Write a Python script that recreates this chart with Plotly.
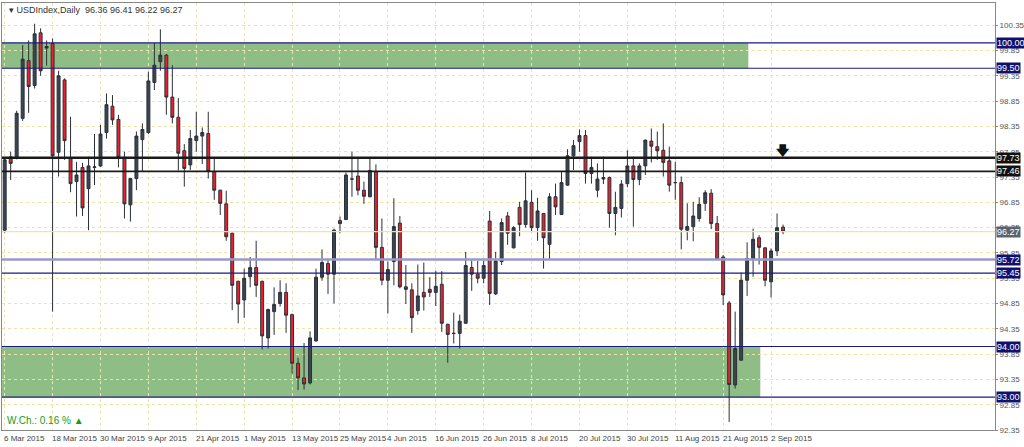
import plotly.graph_objects as go

opens = [96.30,97.75,97.75,98.51,99.65,99.16,100.20,99.90,99.99,97.84,99.27,97.73,97.26,97.54,97.12,97.54,97.57,98.23,98.75,98.49,
97.74,96.80,97.32,98.09,98.23,99.22,99.63,99.76,98.93,98.53,97.87,97.59,98.07,98.16,98.21,97.46,97.09,96.82,96.24,95.29,
94.92,95.38,95.56,95.29,94.17,94.69,94.85,95.07,94.63,93.67,93.38,93.28,94.11,95.37,95.64,95.43,96.49,96.51,97.31,97.37,
97.09,96.96,97.46,95.96,95.31,95.68,96.44,95.18,95.12,94.71,95.07,95.13,95.07,95.23,94.44,94.26,94.26,94.46,95.56,95.43,
95.35,96.48,95.04,95.68,96.58,95.95,96.75,96.41,96.85,96.35,96.63,96.02,96.96,96.61,97.19,97.77,98.05,98.17,97.42,97.09,
97.31,97.34,96.63,96.73,97.22,97.57,97.30,97.57,98.06,97.95,97.88,97.67,97.24,97.24,96.30,96.37,96.53,96.83,97.03,96.43,
95.77,94.86,93.24,93.73,95.31,95.74,96.15,95.95,95.28,95.89,96.36]
highs = [97.72,97.85,98.66,99.96,100.05,100.38,100.29,100.05,100.09,99.45,99.30,98.54,97.65,97.63,97.75,98.20,98.38,99.00,98.97,98.58,
97.85,97.32,98.25,98.41,99.43,100.00,100.27,99.78,99.56,98.91,98.00,98.28,98.64,98.33,98.64,97.72,97.10,97.08,96.25,95.30,
95.54,95.77,96.09,95.30,94.75,95.17,95.31,95.25,94.65,93.78,94.07,94.30,95.54,95.92,95.74,96.33,96.57,97.44,97.85,97.72,
97.26,97.72,97.60,96.53,95.68,96.93,96.58,95.61,95.25,95.62,95.66,95.37,95.50,95.49,94.45,94.67,94.63,95.87,95.71,95.69,
95.70,96.68,95.87,96.53,96.66,96.38,96.86,97.44,97.09,96.94,96.64,97.03,97.22,97.46,97.90,98.08,98.29,98.28,97.75,97.62,
97.75,97.36,97.06,97.29,97.88,97.75,97.62,98.09,98.31,98.25,98.41,97.95,97.65,97.36,96.83,96.86,96.95,97.09,97.11,96.58,
95.81,94.90,94.69,95.46,96.06,96.33,96.20,95.96,95.94,96.63,96.41]
lows = [96.25,97.29,97.70,98.46,98.62,99.10,99.35,99.55,94.69,97.36,97.69,97.05,96.57,96.58,96.30,97.19,97.55,98.11,98.38,97.54,
96.53,96.47,97.09,97.45,98.20,99.07,99.45,98.58,98.41,97.48,97.16,97.49,97.85,97.61,97.32,96.90,96.60,96.09,94.72,94.46,
94.57,95.17,94.98,93.94,93.96,94.23,94.79,94.27,93.47,93.14,93.15,93.25,94.10,95.30,95.04,94.85,96.24,96.50,96.96,96.99,
96.82,96.95,95.72,95.21,94.65,95.21,95.15,94.84,94.27,94.63,94.71,94.98,94.80,94.29,93.68,94.06,93.96,94.45,95.10,95.25,
95.25,94.82,95.02,95.61,96.01,95.94,96.18,96.35,96.26,96.09,95.54,95.73,96.60,96.60,97.18,97.49,97.85,97.22,97.22,96.95,
97.21,96.35,96.20,96.55,97.15,96.37,97.19,97.39,97.64,97.69,97.36,97.06,96.90,95.92,96.10,96.08,96.47,96.68,96.32,95.71,
94.82,92.51,93.17,93.72,95.00,95.38,95.62,95.19,94.97,95.79,96.22]
closes = [97.69,97.62,98.61,99.68,99.14,100.18,99.45,99.93,97.77,99.35,98.07,97.22,97.39,96.74,97.57,97.55,98.20,98.78,98.48,97.74,
96.82,97.32,98.16,98.29,99.25,99.56,99.76,98.93,98.53,97.82,97.52,98.11,98.16,98.23,97.46,97.09,96.83,96.17,95.21,94.84,
95.35,95.56,95.21,94.21,94.73,94.83,95.07,94.62,93.67,93.38,93.26,94.17,95.37,95.66,95.43,96.30,96.43,97.39,97.31,97.09,
96.97,97.48,95.96,95.31,95.52,96.37,95.18,95.13,94.57,95.00,94.98,95.07,95.19,94.46,94.24,94.26,94.50,95.60,95.43,95.35,
95.60,95.05,95.69,96.45,96.24,96.35,96.41,96.88,96.35,96.68,96.15,96.96,96.76,97.24,97.77,97.97,98.17,97.42,97.54,97.31,
97.34,96.63,96.75,97.21,97.57,97.30,97.57,98.08,97.96,97.87,97.64,97.19,97.24,96.32,96.37,96.58,96.81,97.04,96.43,95.72,
95.02,93.25,93.96,95.31,95.74,96.12,95.96,95.31,95.89,96.35,96.27]

tick_labels = ["6 Mar 2015","18 Mar 2015","30 Mar 2015","9 Apr 2015","21 Apr 2015","1 May 2015","13 May 2015",
               "25 May 2015","4 Jun 2015","16 Jun 2015","26 Jun 2015","8 Jul 2015","20 Jul 2015","30 Jul 2015",
               "11 Aug 2015","21 Aug 2015","2 Sep 2015"]
tick_step = 8
level_prices = [100.00, 99.50, 97.73, 97.46, 96.27, 95.72, 95.45, 94.00, 93.00]
y_ticks = [100.35, 99.85, 99.35, 98.85, 98.35, 97.85, 97.35, 96.85, 96.35, 95.85, 95.35, 94.85, 94.35, 93.85, 93.35, 92.85, 92.35]
zones = [(99.50, 100.00, 124.2), (93.00, 94.00, 126.2)]

FONT = "Liberation Sans, Arial"
n = len(opens)
xs = list(range(n))
fig = go.Figure(go.Candlestick(
    x=xs, open=opens, high=highs, low=lows, close=closes,
    increasing=dict(line=dict(color="#2b3038", width=1), fillcolor="#3b4552"),
    decreasing=dict(line=dict(color="#2b3038", width=1), fillcolor="#e8222c"),
    whiskerwidth=0, showlegend=False))

xmax = 165.4
shapes = []
for lo, hi, xe in zones:
    shapes.append(dict(type="rect", xref="x", yref="y", x0=-1, x1=xe, y0=lo, y1=hi,
                       fillcolor="#8fbd86", line=dict(width=0), layer="below"))
styles = {100.00: ("#1a1a80", 1.2), 99.50: ("#1a1a80", 1.2), 97.73: ("#1a1a1a", 2.5), 97.46: ("#1a1a1a", 1.8),
          96.27: ("#f0e890", 1.2), 95.72: ("#9a9ac8", 2.5), 95.45: ("#1a1a80", 1.2), 94.00: ("#1a1a80", 1.2),
          93.00: ("#1a1a80", 1.2)}
box = {97.73: "#111111", 97.46: "#111111", 96.27: "#5a6470"}
anns = []
for p in level_prices:
    c, w = styles[p]
    shapes.append(dict(type="line", xref="paper", yref="y", x0=0, x1=1, y0=p, y1=p,
                       line=dict(color=c, width=w)))
    anns.append(dict(xref="paper", yref="y", x=1.001, y=p, xanchor="left", yanchor="middle",
                     text=f"{p:.2f}", showarrow=False, font=dict(size=9, color="white", family=FONT),
                     bgcolor=box.get(p, "#10106e"), borderpad=0))
for i, t in enumerate(tick_labels):
    anns.append(dict(xref="x", yref="paper", x=i * tick_step - 0.4, y=0, xanchor="left", yanchor="top", yshift=-2,
                     text=t, showarrow=False, font=dict(size=8, color="#444", family=FONT)))
anns.append(dict(xref="paper", yref="paper", x=0.005, y=1.0, xanchor="left", yanchor="top", showarrow=False,
                 text="▾ USDIndex,Daily  96.36 96.41 96.22 96.27", font=dict(size=9, color="#333", family=FONT)))
anns.append(dict(xref="paper", yref="paper", x=0.003, y=0.005, xanchor="left", yanchor="bottom", showarrow=False,
                 text="W.Ch.: 0.16 % ▲", font=dict(size=10, color="#1a9a1a", family=FONT)))
anns.append(dict(xref="x", yref="y", x=130, y=97.88, showarrow=False, text="<b>🡇</b>",
                 font=dict(size=13, color="#111", family="DejaVu Sans")))

fig.update_layout(
    width=1024, height=447, margin=dict(l=2, r=29, t=3, b=17, autoexpand=False),
    paper_bgcolor="white", plot_bgcolor="white",
    shapes=shapes, annotations=anns,
    xaxis=dict(range=[-0.45, xmax], rangeslider=dict(visible=False), automargin=False,
               tickvals=[i * tick_step for i in range(len(tick_labels))], showticklabels=False,
               showgrid=True, gridcolor="#ece4a8", griddash="dot", gridwidth=1,
               ticks="", showline=True, linecolor="#888", mirror=True, zeroline=False),
    yaxis=dict(range=[92.35, 100.79], side="right", automargin=False, tickvals=y_ticks,
               ticktext=[f"{v:.2f}" for v in y_ticks],
               showgrid=True, gridcolor="#ece4a8", griddash="dot", gridwidth=1,
               tickfont=dict(size=8, color="#555", family=FONT), ticks="outside", ticklen=2,
               tickcolor="#888", showline=True, linecolor="#888", mirror=True, zeroline=False),
)
fig.write_html("out.html", config={"displayModeBar": False},
               post_script="document.body.style.margin='0';document.body.style.overflow='hidden';")
